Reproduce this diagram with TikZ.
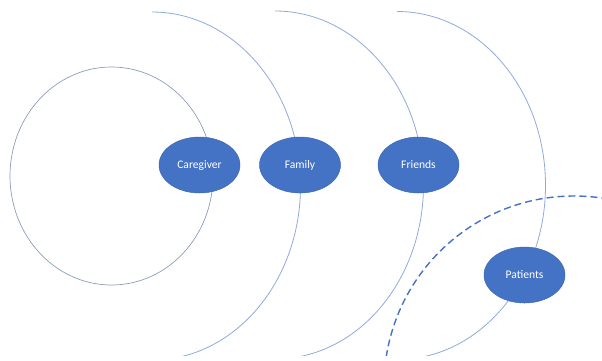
\documentclass[tikz,border=0pt]{standalone}
\usepackage{fontspec}
\setmainfont{Carlito}
\usetikzlibrary{shapes.geometric}
\definecolor{nodeblue}{HTML}{4472C4}
\definecolor{nodeedge}{HTML}{3F69B5}
\definecolor{arcblue}{HTML}{8FAADC}
\definecolor{circgray}{HTML}{8C9DB8}
\tikzset{
  bubble/.style={ellipse, fill=nodeblue, draw=nodeedge, line width=0.5pt,
    minimum width=81pt, minimum height=56pt, inner sep=0pt,
    text=white, font=\fontsize{11.6}{13}\selectfont},
  ringline/.style={draw=arcblue, line width=0.8pt},
  innerline/.style={draw=circgray, line width=0.7pt},
  dashline/.style={draw=nodeblue, line width=1.4pt, dash pattern=on 7pt off 4pt}
}
\begin{document}
\begin{tikzpicture}[x=1pt,y=-1pt]
\useasboundingbox (0,0) rectangle (602,360);
% inner circle
\draw[innerline] (111.5,176) ellipse [x radius=101.5pt, y radius=109pt];
% outer arcs
\begin{scope}
  \clip (152,0) rectangle (602,355);
  \draw[ringline] (152,186) ellipse [x radius=148.5pt, y radius=174pt];
\end{scope}
\begin{scope}
  \clip (275,0) rectangle (602,355);
  \draw[ringline] (275,185) ellipse [x radius=148.5pt, y radius=174pt];
\end{scope}
\begin{scope}
  \clip (397,0) rectangle (602,355);
  \draw[ringline] (397,185.5) ellipse [x radius=148.5pt, y radius=174pt];
\end{scope}
% dashed arc
\begin{scope}
  \clip (0,0) rectangle (602,355);
  \draw[dashline] (574,386) circle [radius=190pt];
\end{scope}
% nodes
\node[bubble] (caregiver) at (199.5,165) {Caregiver};
\node[bubble] (family) at (300,165) {Family};
\node[bubble] (friends) at (418.5,165) {Friends};
\node[bubble] (patients) at (524.5,275) {Patients};
\end{tikzpicture}
\end{document}
